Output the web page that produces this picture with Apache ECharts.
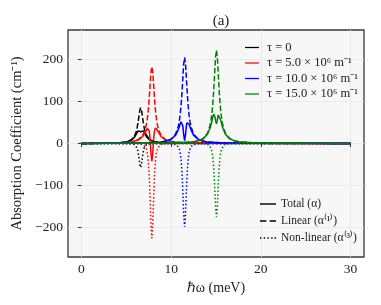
<!DOCTYPE html>
<html><head><meta charset="utf-8">
<script src="https://cdn.jsdelivr.net/npm/echarts@6/dist/echarts.min.js"></script>
<style>html,body{margin:0;padding:0;background:#fff}#c{width:381px;height:305px}</style>
</head><body><div id="c"></div>
<script>
// offsets (meV) from each resonance centre, one side (mirrored)
const offsets = [0, 0.1, 0.15, 0.2, 0.25, 0.3, 0.4, 0.5, 0.6, 0.7, 1.0, 1.5, 2.0, 2.5, 4.0];
const centers = [6.6, 7.85, 11.5, 15.05];
const xTicks = [0, 10, 20, 30];
const yTicks = [-200, -100, 0, 100, 200];

const blackTotal  = [28, 29.9, 31.1, 31.7, 31.3, 30.1, 26.2, 21.7, 17.9, 14.7, 8.6, 4.3, 2.5, 1.6, 0.6];
const blackLinear = [85, 78.6, 71.8, 64.1, 56.3, 49.0, 36.9, 27.9, 21.6, 17.0, 9.3, 4.4, 2.5, 1.6, 0.6];
const blackNonlin = [-57, -48.7, -40.7, -32.4, -25.0, -18.9, -10.7, -6.2, -3.7, -2.3, -0.7, -0.15, -0.05, 0, 0];

const redTotal  = [-42, -23.1, -6.0, 10.1, 22.5, 30.7, 37.0, 35.9, 32.0, 27.6, 17.3, 8.8, 5.2, 3.4, 1.4];
const redLinear = [183, 169.2, 154.6, 137.9, 121.2, 105.5, 79.3, 60.2, 46.5, 36.6, 20.0, 9.4, 5.4, 3.5, 1.4];
const redNonlin = [-225, -192.3, -160.6, -127.8, -98.7, -74.8, -42.3, -24.3, -14.5, -9.0, -2.7, -0.6, -0.2, -0.1, 0];

const blueTotal  = [7, 20.3, 31.9, 42.0, 49.0, 52.4, 51.7, 46.0, 39.2, 33.1, 20.0, 10.1, 5.9, 3.8, 1.6];
const blueLinear = [205, 189.5, 173.2, 154.5, 135.8, 118.2, 88.9, 67.4, 52.0, 41.0, 22.4, 10.6, 6.1, 3.9, 1.6];
const blueNonlin = [-198, -169.2, -141.3, -112.5, -86.8, -65.8, -37.2, -21.4, -12.8, -7.9, -2.4, -0.5, -0.2, -0.1, 0];

const greenTotal  = [47, 55.6, 62.6, 67.9, 70.3, 69.8, 63.4, 54.1, 45.1, 37.4, 22.1, 11.0, 6.4, 4.2, 1.7];
const greenLinear = [222, 205.2, 187.5, 167.3, 147.0, 128.0, 96.3, 73.0, 56.4, 44.4, 24.2, 11.5, 6.6, 4.3, 1.7];
const greenNonlin = [-175, -149.6, -124.9, -99.4, -76.7, -58.2, -32.9, -18.9, -11.3, -7.0, -2.1, -0.5, -0.2, -0.1, 0];

const tauLabels = ['τ = 0', 'τ = 5.0 × 10⁶ m⁻¹', 'τ = 10.0 × 10⁶ m⁻¹', 'τ = 15.0 × 10⁶ m⁻¹'];
const styleLabels = ['Total (α)', 'Linear (α⁽¹⁾)', 'Non-linear (α⁽³⁾)'];
const colors = ['#000000', '#ff0000', '#0000ff', '#008000'];

function build(center, half) {
  const pts = [[0, 0]];
  for (let i = half.length - 1; i > 0; i--) pts.push([center - offsets[i], half[i]]);
  for (let i = 0; i < half.length; i++) pts.push([center + offsets[i], half[i]]);
  pts.push([30, 0]);
  return pts;
}
const groups = [
  [blackTotal, blackLinear, blackNonlin],
  [redTotal, redLinear, redNonlin],
  [blueTotal, blueLinear, blueNonlin],
  [greenTotal, greenLinear, greenNonlin]
];
const dashTypes = ['solid', [5.5, 2.4], [1.5, 2.2]];
const FONT = 'Liberation Serif';
const series = [];
groups.forEach((g, gi) => {
  g.forEach((half, k) => {
    series.push({
      type: 'line',
      name: k === 0 ? tauLabels[gi] : tauLabels[gi] + ' #' + k,
      data: build(centers[gi], half),
      symbol: 'none',
      color: colors[gi],
      lineStyle: { width: 1.5, type: dashTypes[k], color: colors[gi] },
      z: 2 + gi,
      animation: false
    });
  });
});
styleLabels.forEach((n, k) => {
  series.push({ type: 'line', name: n, data: [], symbol: 'none', color: '#000',
    lineStyle: { width: 1.5, type: dashTypes[k], color: '#000' }, animation: false });
});

const iconSolid = 'path://M0,0H18V1.6H0Z';
const iconDash = 'path://M0,0H7V1.6H0Z M10.5,0H17.5V1.6H10.5Z';
const iconDot = 'path://M0,0H1.6V1.6H0Z M4.2,0H5.8V1.6H4.2Z M8.4,0H10V1.6H8.4Z M12.6,0H14.2V1.6H12.6Z M16.4,0H18V1.6H16.4Z';

const chart = echarts.init(document.getElementById('c'), null, { renderer: 'canvas' });
chart.setOption({
  animation: false,
  backgroundColor: '#fff',
  title: { text: '(a)', left: 216, top: 9, textAlign: 'center',
    textStyle: { fontFamily: FONT, fontSize: 15, fontWeight: 'normal', color: '#222' } },
  grid: { left: 68, right: 17, top: 30, bottom: 48, show: true, backgroundColor: '#f7f7f7',
    borderColor: '#3a3a3a', borderWidth: 1.3 },
  legend: [
    { data: tauLabels.map((n, i) => ({ name: n, icon: iconSolid, itemStyle: { color: colors[i] } })),
      orient: 'vertical', left: 240, top: 36, itemWidth: 14, itemHeight: 1.6, itemGap: 2.5,
      textStyle: { fontFamily: FONT, fontSize: 12.5, color: '#222', padding: [0, 0, 0, 3] } },
    { data: styleLabels.map((n, i) => ({ name: n, icon: [iconSolid, iconDash, iconDot][i], itemStyle: { color: '#000' } })),
      orient: 'vertical', left: 255, top: 193, itemWidth: 16, itemHeight: 1.6, itemGap: 5,
      textStyle: { fontFamily: FONT, fontSize: 11.5, color: '#222' } }
  ],
  xAxis: {
    type: 'value', min: -1.5, max: 31.5,
    name: 'ℏω (meV)', nameLocation: 'middle', nameGap: 19,
    nameTextStyle: { fontFamily: FONT, fontSize: 14, color: '#222' },
    axisLine: { show: false },
    axisTick: { show: true, customValues: xTicks, length: 3.5, lineStyle: { color: '#333' } },
    axisLabel: { customValues: xTicks, fontFamily: FONT, fontSize: 13.5, color: '#222', margin: 5 },
    splitLine: { show: true, lineStyle: { color: '#e6e6e6', width: 0.8 } }
  },
  yAxis: {
    type: 'value', min: -270, max: 270,
    name: 'Absorption Coefficient (cm⁻¹)', nameLocation: 'middle', nameGap: 34, nameRotate: 90,
    nameTextStyle: { fontFamily: FONT, fontSize: 14.5, color: '#222' },
    axisLine: { show: false },
    axisTick: { show: true, customValues: yTicks, length: 3.5, lineStyle: { color: '#333' } },
    axisLabel: { customValues: yTicks, fontFamily: FONT, fontSize: 13.5, color: '#222', margin: 5,
      formatter: v => (v < 0 ? '−' + Math.abs(v) : String(v)) },
    splitLine: { show: true, lineStyle: { color: '#e6e6e6', width: 0.8 } }
  },
  series: series
});
</script>
</body></html>
